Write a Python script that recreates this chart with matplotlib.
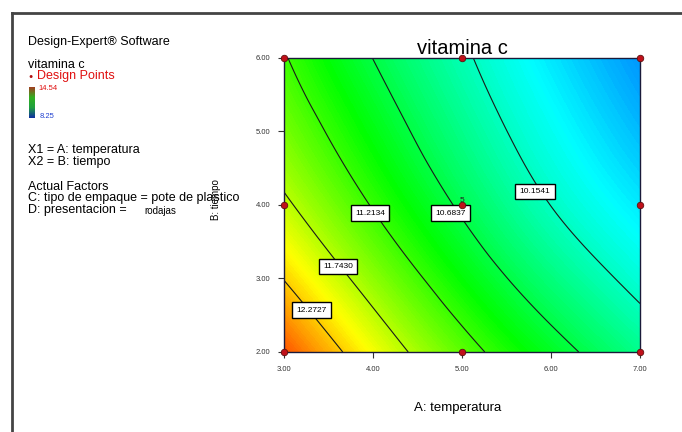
import numpy as np
import matplotlib
matplotlib.use("Agg")
import matplotlib.pyplot as plt
import matplotlib.tri as mtri
from matplotlib.colors import LinearSegmentedColormap
from matplotlib.lines import Line2D

plt.rcParams['font.family'] = ['Liberation Sans', 'DejaVu Sans']

# response surface (A: temperatura, B: tiempo)
temp = [3.0, 4.0, 5.0, 6.0, 7.0]
tiempo = [2.0, 3.0, 4.0, 5.0, 6.0]
vit_c = [
    [12.79, 12.02, 11.36, 10.83, 10.38],
    [12.26, 11.57, 10.96, 10.45, 10.05],
    [11.81, 11.19, 10.63, 10.15, 9.80],
    [11.48, 10.91, 10.39, 9.95, 9.60],
    [11.24, 10.68, 10.21, 9.79, 9.44],
]
levels = [10.1541, 10.6837, 11.2134, 11.7430, 12.2727]
# where each contour label sits (temp, tiempo)
label_at = [(5.82, 4.18), (4.87, 3.89), (3.97, 3.89), (3.61, 3.16), (3.31, 2.57)]

design_A = [3, 3, 3, 5, 5, 5, 7, 7, 7]
design_B = [2, 4, 6, 2, 4, 6, 2, 4, 6]
center_reps = "5"

resp_hi, resp_lo = "14.54", "8.25"

cmap = LinearSegmentedColormap.from_list(
    "dx", ["#0000ff", "#00ffff", "#00ff00", "#ffff00", "#ff0000"])
vmin, vmax = 8.8, 13.15
swatch = LinearSegmentedColormap.from_list(
    "sw", ["#1030a0", "#20a040", "#30b020", "#a04020"])

W, H = 682, 432
fig = plt.figure(figsize=(W / 100, H / 100), dpi=100)

def fx(px):
    return px / W

def fy(py):
    return 1 - py / H

# page frame
fig.add_artist(Line2D([fx(12), 1], [fy(13), fy(13)], color="#444444", lw=2))
fig.add_artist(Line2D([fx(12), fx(12)], [0, fy(13)], color="#444444", lw=2))

ax = fig.add_axes([fx(284), fy(352), (640 - 284) / W, (352 - 58) / H])

AA, BB = np.meshgrid(temp, tiempo)
tri = mtri.Triangulation(AA.ravel(), BB.ravel())
z = np.array(vit_c).ravel()
interp = mtri.CubicTriInterpolator(tri, z, kind="min_E")
tri_r, z_r = mtri.UniformTriRefiner(tri).refine_field(z, triinterpolator=interp, subdiv=4)

ax.tricontourf(tri_r, z_r, levels=np.linspace(8.0, 13.6, 240), cmap=cmap,
               vmin=vmin, vmax=vmax)
ax.tricontour(tri_r, z_r, levels=levels, colors="#1a1a1a", linewidths=0.8)

for lev, (a, b) in zip(levels, label_at):
    ax.text(a, b, "%.4f" % lev, fontsize=6, ha="center", va="center",
            bbox=dict(boxstyle="square,pad=0.5", fc="white", ec="black", lw=1.0))

ax.scatter(design_A, design_B, s=22, c="#c0101a", edgecolors="#601010",
           linewidths=0.6, zorder=5, clip_on=False)
ax.text(5.0, 4.02, center_reps, fontsize=6, color="#202020", ha="center",
        va="bottom", zorder=6)

ax.set_xlim(3, 7)
ax.set_ylim(2, 6)
ax.set_xticks([3, 4, 5, 6, 7])
ax.set_yticks([2, 3, 4, 5, 6])
ax.set_xticklabels(["3.00", "4.00", "5.00", "6.00", "7.00"])
ax.set_yticklabels(["2.00", "3.00", "4.00", "5.00", "6.00"])
ax.tick_params(labelsize=5.5, length=4, width=0.8, direction="out",
               colors="#333333", pad=6)
for s in ax.spines.values():
    s.set_color("#1a1a3a")
    s.set_linewidth(1.0)

ax.set_title("vitamina c", fontsize=14.5, pad=2)
fig.text(fx(458), fy(408), "A: temperatura", fontsize=9.5, ha="center", va="center")
fig.text(fx(216), fy(200), "B: tiempo", fontsize=7, rotation=90,
         ha="center", va="center")

# left-hand info block
fs = 9
fig.text(fx(28), fy(42), "Design-Expert\u00ae Software", fontsize=fs, va="center")
fig.text(fx(28), fy(65), "vitamina c", fontsize=fs, va="center")
fig.text(fx(28), fy(77), "\u25cf", fontsize=5, color="#b01010", va="center")
fig.text(fx(37), fy(76), "Design Points", fontsize=fs, color="#e01010", va="center")
cax = fig.add_axes([fx(29), fy(118), 6 / W, 31 / H])
cax.imshow(np.linspace(1, 0, 50).reshape(-1, 1), aspect="auto", cmap=swatch)
cax.set_axis_off()
fig.text(fx(38), fy(89), resp_hi, fontsize=5.5, color="#e01010", va="center")
fig.text(fx(40), fy(116), resp_lo, fontsize=5.5, color="#2040d0", va="center")

fig.text(fx(28), fy(150), "X1 = A: temperatura", fontsize=fs, va="center")
fig.text(fx(28), fy(162), "X2 = B: tiempo", fontsize=fs, va="center")
fig.text(fx(28), fy(187), "Actual Factors", fontsize=fs, va="center")
fig.text(fx(28), fy(198), "C: tipo de empaque = pote de plastico", fontsize=fs, va="center")
fig.text(fx(28), fy(210), "D: presentacion = ", fontsize=fs, va="center")
fig.text(fx(144), fy(211), "rodajas", fontsize=7, va="center")

fig.savefig("out.png", dpi=100)
